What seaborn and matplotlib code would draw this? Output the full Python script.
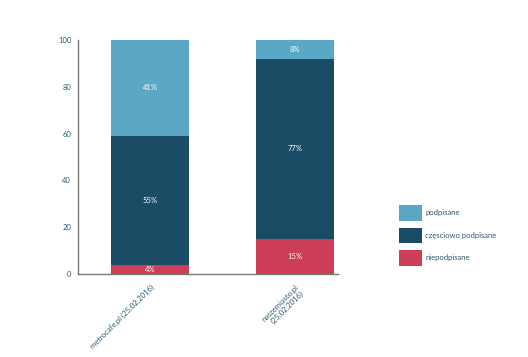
import matplotlib
matplotlib.use('Agg')
import matplotlib.pyplot as plt
import seaborn as sns
import numpy as np
import pandas as pd
from matplotlib.patches import Patch

sites = ['metrocafe.pl (25.02.2016)', 'naszemiasto.pl\n(25.02.2016)']
niepodpisane = [4, 15]
czesciowo = [55, 77]
podpisane = [41, 8]

series = ['podpisane', 'częsciowo podpisane', 'niepodpisane']
colors = {'podpisane': '#5ba8c6', 'częsciowo podpisane': '#1a4c65', 'niepodpisane': '#cc3d58'}

sns.set_style("white")
plt.rcParams['font.family'] = ['Lato', 'DejaVu Sans']

df = pd.DataFrame({'site': sites, 'niepodpisane': niepodpisane,
                   'częsciowo podpisane': czesciowo, 'podpisane': podpisane})
df['c1'] = df['niepodpisane']
df['c2'] = df['c1'] + df['częsciowo podpisane']
df['c3'] = df['c2'] + df['podpisane']

fig = plt.figure(figsize=(5.28, 3.57), dpi=100)
ax = fig.add_axes([0.148, 0.232, 0.492, 0.656])

# draw cumulative heights, tallest first so shorter ones sit on top
for col, name in [('c3', 'podpisane'), ('c2', 'częsciowo podpisane'), ('c1', 'niepodpisane')]:
    sns.barplot(data=df, x='site', y=col, color=colors[name], width=0.54,
                saturation=1, ax=ax, linewidth=0)

# percentage labels in the middle of each segment
for i in range(len(sites)):
    base = 0
    for name in ['niepodpisane', 'częsciowo podpisane', 'podpisane']:
        v = df[name].iloc[i]
        ax.text(i, base + v / 2, '{}%'.format(v), ha='center', va='center',
                color='white', fontsize=5.5)
        base += v

ax.set_ylim(0, 100)
ax.set_xlim(-0.5, 1.3)
ax.set_yticks(range(0, 101, 20))
ax.set_xlabel('')
ax.set_ylabel('')
sns.despine(ax=ax)
for s in ['left', 'bottom']:
    ax.spines[s].set_color('#777777')
    ax.spines[s].set_linewidth(1.0)
ax.tick_params(axis='y', length=0, labelsize=5.5, labelcolor='#2e5a70', pad=5)
ax.tick_params(axis='x', length=0, labelsize=5.5, labelcolor='#2e5a70', pad=7)
plt.setp(ax.get_xticklabels(), rotation=45, ha='right', rotation_mode='anchor')

handles = [Patch(facecolor=colors[n], edgecolor='none') for n in series]
fig.legend(handles, series, loc='upper left', bbox_to_anchor=(0.742, 0.445),
           frameon=False, fontsize=5.5, handlelength=3.0, handleheight=2.8,
           labelspacing=0.9, handletextpad=0.5, labelcolor='#2e5a70')

fig.savefig('out.png', dpi=100)
